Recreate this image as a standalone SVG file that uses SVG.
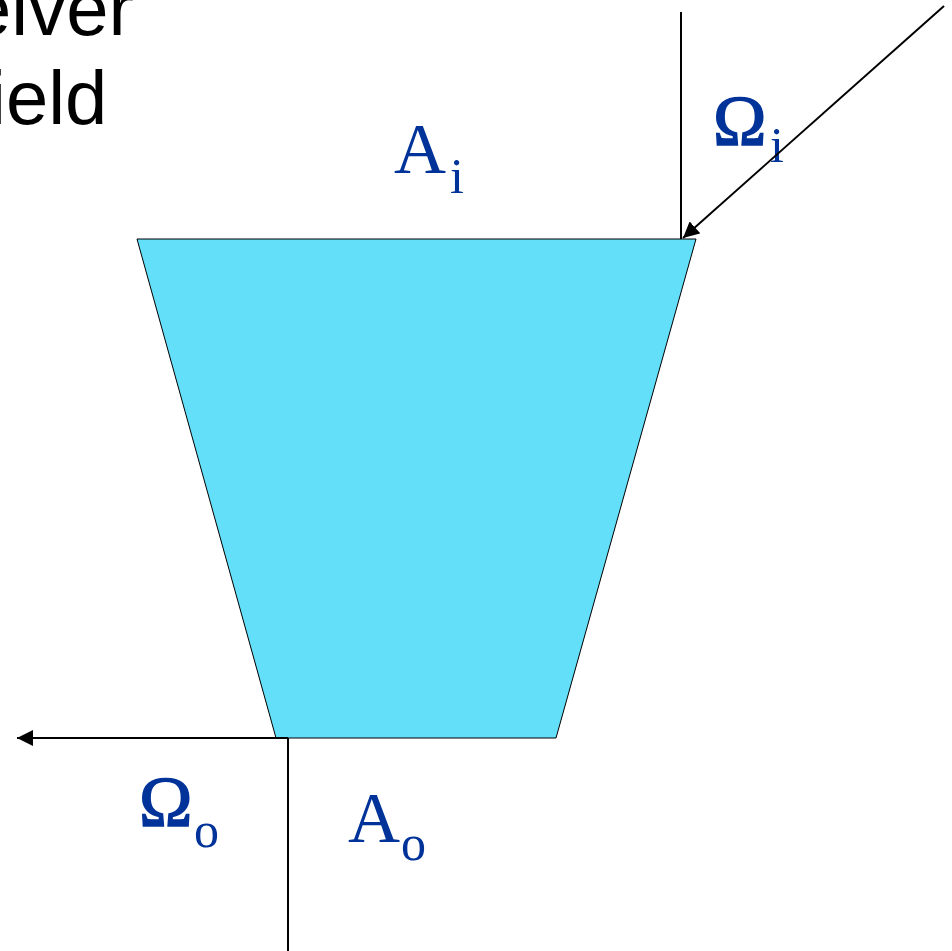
<svg xmlns="http://www.w3.org/2000/svg" width="952" height="951" viewBox="0 0 952 951">
<style>
.title{font-family:"Liberation Sans",Arial,sans-serif;font-size:76px;fill:#000}
.lbl{font-family:"Liberation Serif","Times New Roman",serif;font-size:72px;fill:#003399}
.om{stroke:#003399;stroke-width:1.5}
.sub{font-size:50px;stroke:none}
.ln{stroke:#000;stroke-width:2;fill:none}
</style>
<defs>
<marker id="ah" markerUnits="userSpaceOnUse" markerWidth="18" markerHeight="16" refX="16" refY="8" orient="auto">
<path d="M0,0 L16,8 L0,16 Z" fill="#000"/>
</marker>
</defs>
<rect width="952" height="951" fill="#fff"/>
<g id="title">
<text class="title" x="-31" y="35">eiver</text>
<text class="title" x="-11" y="124">ield</text>
</g>
<g id="horn">
<polygon points="137,239 696,239 556,738 276,738" fill="#63DFFA" stroke="#000" stroke-width="1"/>
</g>
<g id="label-Ai"><text class="lbl" x="394" y="173">A<tspan class="sub" x="450" y="193">i</tspan></text></g>
<g id="label-Omi"><text class="lbl" x="713" y="145"><tspan class="om">Ω</tspan><tspan class="sub" x="770" y="162">i</tspan></text></g>
<g id="label-Omo"><text class="lbl" x="139" y="826"><tspan class="om">Ω</tspan><tspan class="sub" x="194" y="847">o</tspan></text></g>
<g id="label-Ao"><text class="lbl" x="348" y="842">A<tspan class="sub" x="401" y="860">o</tspan></text></g>
<g id="connectors">
<line class="ln" x1="681" y1="12" x2="681" y2="239"/>
<line class="ln" x1="944" y1="6" x2="683" y2="238" marker-end="url(#ah)"/>
<line class="ln" x1="288" y1="738" x2="17" y2="738" marker-end="url(#ah)"/>
<line class="ln" x1="288" y1="738" x2="288" y2="951"/>
</g>
</svg>
